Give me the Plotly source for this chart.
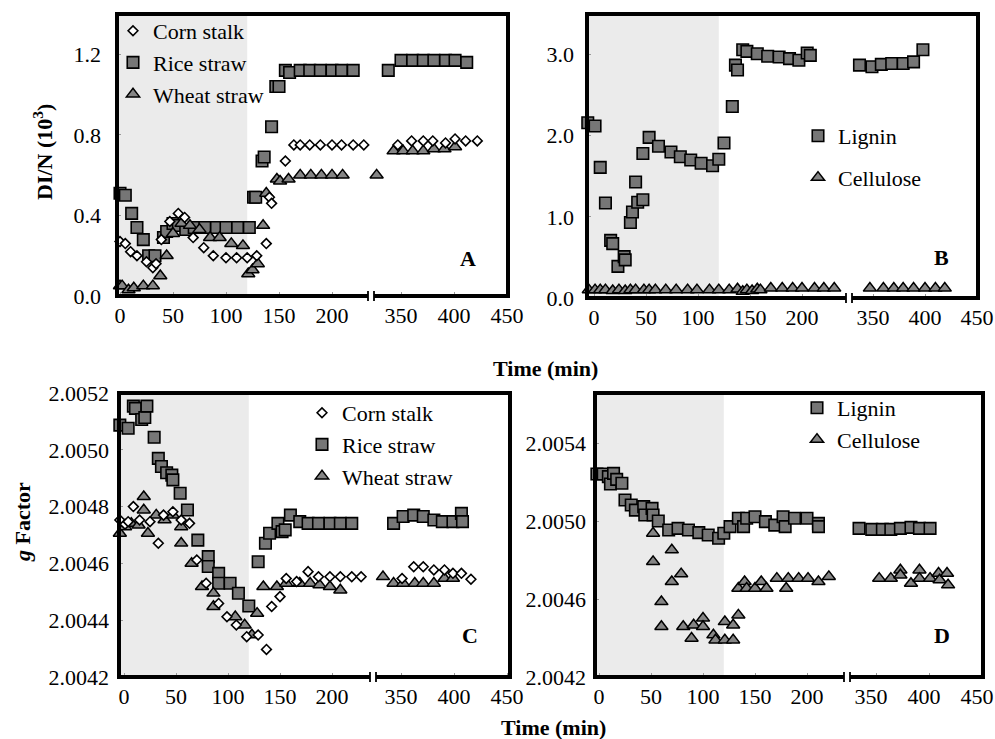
import plotly.graph_objects as go

W, H = 995, 739
SERIF = "Liberation Serif"

# ---------------- DATA ----------------
# Panel A : DI/N (10^3)
a_corn_t = [0, 5, 10, 16, 25, 31, 34, 39, 47, 55, 61, 69, 79, 88, 100, 110, 120, 129, 138, 141,
            143, 156, 164, 170, 179, 189, 200, 209, 220, 230, 347, 360, 371, 380, 392, 401, 411, 422]
a_corn_v = [0.27, 0.26, 0.22, 0.20, 0.17, 0.14, 0.16, 0.28, 0.37, 0.41, 0.39, 0.29, 0.24, 0.20, 0.19,
            0.19, 0.19, 0.20, 0.26, 0.49, 0.46, 0.67, 0.75, 0.75, 0.75, 0.75, 0.75, 0.75, 0.75, 0.75,
            0.75, 0.77, 0.77, 0.77, 0.76, 0.78, 0.77, 0.77]
a_rice_t = [0, 5, 11, 16, 22, 27, 33, 41, 44, 50, 55, 62, 70, 80, 91, 100, 111, 122, 126, 128,
            134, 136, 143, 147, 150, 156, 160, 170, 179, 189, 200, 209, 220, 338, 350, 361, 371, 381,
            392, 401, 412]
a_rice_v = [0.51, 0.50, 0.41, 0.34, 0.28, 0.20, 0.20, 0.29, 0.32, 0.36, 0.35, 0.33, 0.34, 0.34, 0.34,
            0.34, 0.34, 0.34, 0.49, 0.49, 0.67, 0.69, 0.84, 1.04, 1.04, 1.12, 1.11, 1.12, 1.12, 1.12,
            1.12, 1.12, 1.12, 1.12, 1.17, 1.17, 1.17, 1.17, 1.17, 1.17, 1.16]
a_wheat_t = [0, 2, 8, 13, 22, 31, 38, 44, 50, 58, 66, 75, 85, 94, 105, 116, 121, 125, 130, 135,
             138, 148, 151, 159, 170, 180, 190, 200, 210, 327, 343, 352, 361, 371, 381, 391, 401]
a_wheat_v = [0.05, 0.05, 0.03, 0.04, 0.05, 0.05, 0.10, 0.20, 0.31, 0.36, 0.35, 0.33, 0.29, 0.29, 0.26,
             0.25, 0.11, 0.13, 0.16, 0.35, 0.51, 0.58, 0.57, 0.58, 0.60, 0.60, 0.60, 0.60, 0.60, 0.60,
             0.72, 0.72, 0.72, 0.72, 0.73, 0.73, 0.74]

# Panel B : DI/N (10^3)
b_lignin_t = [-6, 1, 6, 11, 16, 18, 23, 29, 30, 35, 37, 40, 42, 47, 47, 53, 62, 74, 83, 93, 103, 114,
              120, 125, 133, 136, 138, 143, 147, 157, 167, 178, 188, 197, 205, 208,
              323, 337, 349, 358, 368, 379, 389, 398]
b_lignin_v = [2.16, 2.12, 1.61, 1.17, 0.71, 0.67, 0.39, 0.51, 0.47, 0.93, 1.06, 1.43, 1.18, 1.21, 1.78,
              1.98, 1.87, 1.80, 1.74, 1.70, 1.66, 1.63, 1.71, 1.91, 2.36, 2.87, 2.81, 3.06, 3.04, 3.01,
              2.98, 2.97, 2.95, 2.93, 3.02, 2.99,
              2.85, 2.87, 2.85, 2.88, 2.89, 2.89, 2.91, 3.06]
b_cell_t = [-5, 1, 6, 11, 18, 24, 30, 35, 40, 48, 53, 59, 69, 79, 90, 99, 111, 120, 130, 138, 143,
            147, 152, 157, 160, 170, 181, 191, 200, 212, 221, 231,
            347, 360, 370, 379, 389, 400, 410, 419]
b_cell_v = [0.10, 0.10, 0.10, 0.10, 0.09, 0.10, 0.09, 0.10, 0.10, 0.10, 0.10, 0.10, 0.10, 0.10, 0.10,
            0.10, 0.10, 0.10, 0.10, 0.11, 0.08, 0.10, 0.09, 0.11, 0.10, 0.12, 0.12, 0.12, 0.12, 0.12,
            0.12, 0.12,
            0.12, 0.12, 0.12, 0.12, 0.12, 0.12, 0.12, 0.12]

# Panel C : g factor
c_corn_t = [-4, 1, 4, 9, 15, 25, 33, 38, 47, 55, 63, 70, 79, 91, 99, 108, 118, 129, 137, 142,
            150, 156, 166, 177, 187, 198, 208, 219, 228, 351, 362, 371, 381, 391, 399, 407, 416]
c_corn_v = [2.004753, 2.004738, 2.004747, 2.004800, 2.004753, 2.004747, 2.004671, 2.004770, 2.004782,
            2.004753, 2.004741, 2.004612, 2.004530, 2.004459, 2.004412, 2.004383, 2.004342, 2.004348,
            2.004297, 2.004448, 2.004483, 2.004547, 2.004536, 2.004571, 2.004553, 2.004553, 2.004553,
            2.004553, 2.004553, 2.004547, 2.004588, 2.004588, 2.004577, 2.004577, 2.004565, 2.004565,
            2.004544]
c_rice_t = [-4, 4, 9, 11, 17, 20, 22, 29, 33, 36, 41, 46, 47, 54, 61, 71, 81, 81, 91, 91, 102, 110,
            120, 129, 136, 140, 148, 152, 155, 160, 169, 177, 187, 198, 208, 219,
            343, 352, 362, 371, 381, 389, 399, 407, 408]
c_rice_v = [2.005087, 2.005076, 2.005154, 2.005146, 2.005107, 2.005114, 2.005154, 2.005044, 2.004970,
            2.004941, 2.004919, 2.004911, 2.004894, 2.004847, 2.004788, 2.004682, 2.004624, 2.004589,
            2.004565, 2.004530, 2.004530, 2.004495, 2.004450, 2.004606, 2.004671, 2.004706, 2.004741,
            2.004712, 2.004718, 2.004770, 2.004747, 2.004741, 2.004741, 2.004741, 2.004741, 2.004741,
            2.004741, 2.004765, 2.004770, 2.004765, 2.004753, 2.004747, 2.004747, 2.004776, 2.004747]
c_wheat_t = [-4, 1, 7, 14, 19, 19, 23, 31, 39, 47, 55, 55, 65, 75, 86, 86, 107, 116, 123, 128, 134,
             147, 156, 169, 179, 188, 198, 208, 333, 343, 352, 363, 371, 381, 391, 399]
c_wheat_v = [2.004706, 2.004729, 2.004741, 2.004735, 2.004788, 2.004835, 2.004706, 2.004770, 2.004753,
             2.004770, 2.004729, 2.004671, 2.004600, 2.004518, 2.004495, 2.004448, 2.004412, 2.004383,
             2.004348, 2.004424, 2.004518, 2.004518, 2.004530, 2.004530, 2.004530, 2.004524, 2.004518,
             2.004506, 2.004553, 2.004530, 2.004530, 2.004530, 2.004530, 2.004530, 2.004547, 2.004547]

# Panel D : g factor
d_lignin_t = [-2, 4, 9, 11, 14, 17, 22, 25, 31, 35, 43, 44, 51, 52, 57, 67, 76, 86, 96, 105, 115,
              120, 126, 134, 139, 142, 150, 160, 169, 177, 179, 188, 200, 211, 211,
              334, 346, 356, 364, 373, 383, 391, 401]
d_lignin_v = [2.005244, 2.005244, 2.005230, 2.005192, 2.005247, 2.005216, 2.005196, 2.005110, 2.005084,
              2.005058, 2.005076, 2.005033, 2.005067, 2.005033, 2.005002, 2.004956, 2.004964, 2.004956,
              2.004942, 2.004930, 2.004913, 2.004939, 2.004973, 2.005016, 2.004973, 2.005016, 2.005024,
              2.004999, 2.004981, 2.005024, 2.004973, 2.005016, 2.005016, 2.004990, 2.004973,
              2.004964, 2.004959, 2.004959, 2.004959, 2.004964, 2.004969, 2.004964, 2.004964]
d_cell_t = [52, 52, 60, 60, 70, 70, 79, 81, 89, 91, 100, 100, 110, 112, 121, 121, 129, 129, 134, 134,
            140, 142, 150, 156, 161, 171, 180, 182, 192, 201, 211, 221,
            353, 364, 373, 373, 383, 391, 391, 401, 409, 410, 417, 418]
d_cell_v = [2.004939, 2.004793, 2.004587, 2.004459, 2.004853, 2.004690, 2.004730, 2.004459, 2.004399,
            2.004467, 2.004502, 2.004459, 2.004416, 2.004390, 2.004390, 2.004484, 2.004390, 2.004467,
            2.004518, 2.004656, 2.004690, 2.004656, 2.004656, 2.004690, 2.004656, 2.004707, 2.004656,
            2.004707, 2.004707, 2.004707, 2.004690, 2.004716,
            2.004707, 2.004707, 2.004750, 2.004724, 2.004681, 2.004750, 2.004707, 2.004707, 2.004733,
            2.004699, 2.004733, 2.004673]

# Tick labels
x_ticks_left = [0, 50, 100, 150, 200]
x_ticks_right = [350, 400, 450]
a_yticks = [0.0, 0.4, 0.8, 1.2]
b_yticks = [0.0, 1.0, 2.0, 3.0]
c_yticks = [2.0042, 2.0044, 2.0046, 2.0048, 2.0050, 2.0052]
d_yticks = [2.0042, 2.0046, 2.0050, 2.0054]
shade_end = 120

# ---------------- LAYOUT GEOMETRY (pixels) ----------------
PANELS = [
    dict(left=117, right=508, top=14, bottom=296, brk=371, t0=120, s=1.06, p350=401, sr=1.06,
         yr=[0, 1.4], yt=a_yticks, fmt=".1f", letter="A", lx=468, ly=258, so=15, shift=0),
    dict(left=587, right=978, top=14, bottom=298, brk=849, t0=594, s=1.04, p350=873, sr=1.04,
         yr=[0, 3.5], yt=b_yticks, fmt=".1f", letter="B", lx=941, ly=257, so=12, shift=0),
    dict(left=119, right=510, top=393, bottom=677, brk=373, t0=124, s=1.04, p350=401, sr=1.06,
         yr=[2.0042, 2.0052], yt=c_yticks, fmt=".4f", letter="C", lx=470, ly=635, so=9, shift=0),
    dict(left=595, right=983, top=393, bottom=677, brk=847, t0=599, s=1.04, p350=876, sr=1.06,
         yr=[2.0042, 2.00566], yt=d_yticks, fmt=".4f", letter="D", lx=942, ly=635, so=8, shift=-5),
]


def px(x):
    return x / W


def py(y):
    return 1 - y / H


def sid(n):
    return "" if n == 1 else str(n)


SQUARE = dict(symbol="square", size=11.5, color="#767676", line=dict(color="black", width=1.6))
TRI = dict(symbol="triangle-up", size=11.5, color="#858585", line=dict(color="black", width=1.5))
DIAM = dict(symbol="diamond", size=7.5, color="white", line=dict(color="black", width=1.6))

fig = go.Figure()
layout = dict(width=W, height=H, margin=dict(l=0, r=0, t=0, b=0, autoexpand=False), autosize=False,
              paper_bgcolor="white", plot_bgcolor="rgba(0,0,0,0)",
              font=dict(family=SERIF, size=22, color="black"), showlegend=True)
shapes = []
annotations = []

for i, g in enumerate(PANELS):
    xl, xr, yi = sid(2 * i + 1), sid(2 * i + 2), sid(i + 1)
    lo = (g["left"] - g["t0"]) / g["s"]
    hi = (g["brk"] - g["t0"]) / g["s"]
    rlo = 350 + (g["brk"] - g["p350"]) / g["sr"]
    rhi = 350 + (g["right"] - g["p350"]) / g["sr"]
    common_x = dict(showgrid=False, zeroline=False, showline=False, ticks="inside", ticklen=4,
                    tickwidth=1, tickcolor="#999999", tickfont=dict(family=SERIF, size=22),
                    ticklabelstandoff=4, fixedrange=True, automargin=False,
                    ticklabeloverflow="allow")
    layout[f"xaxis{xl}"] = dict(common_x, domain=[px(g["left"]), px(g["brk"])], range=[lo, hi],
                                tickvals=x_ticks_left, anchor=f"y{yi}")
    layout[f"xaxis{xr}"] = dict(common_x, domain=[px(g["brk"]), px(g["right"])], range=[rlo, rhi],
                                tickvals=x_ticks_right, anchor=f"y{yi}", ticklabelshift=g["shift"])
    eps = (g["yr"][1] - g["yr"][0]) * 1e-4
    layout[f"yaxis{yi}"] = dict(domain=[py(g["bottom"]), py(g["top"])],
                                range=[g["yr"][0] - eps, g["yr"][1] + eps], anchor=f"x{xl}",
                                showgrid=False, zeroline=False, showline=False, ticks="inside",
                                ticklen=4, tickwidth=1, tickcolor="#999999", tickvals=g["yt"],
                                tickformat=g["fmt"], tickfont=dict(family=SERIF, size=22),
                                ticklabelstandoff=g["so"], fixedrange=True, automargin=False)
    # shaded period
    shapes.append(dict(type="rect", xref=f"x{xl}", yref=f"y{yi} domain", x0=lo, x1=shade_end,
                       y0=0, y1=1, fillcolor="#ebebeb", line=dict(width=0), layer="below"))
    # frame with broken bottom axis
    L, R, T, B, K = px(g["left"]), px(g["right"]), py(g["top"]), py(g["bottom"]), g["brk"]
    fl = dict(color="black", width=4)
    for x0, y0, x1, y1 in [(px(g["left"] - 2), T, px(g["right"] + 2), T), (L, T, L, B), (R, T, R, B),
                           (px(g["left"] - 2), B, px(K - 3), B), (px(K + 3), B, px(g["right"] + 2), B)]:
        shapes.append(dict(type="line", xref="paper", yref="paper", x0=x0, y0=y0, x1=x1, y1=y1,
                           line=fl, layer="above"))
    for kx in (K - 3, K + 3):
        shapes.append(dict(type="line", xref="paper", yref="paper", x0=px(kx), x1=px(kx),
                           y0=py(g["bottom"] - 5), y1=py(g["bottom"] + 5),
                           line=dict(color="black", width=1.8), layer="above"))
    annotations.append(dict(text=f"<b>{g['letter']}</b>", x=px(g["lx"]), y=py(g["ly"])))


def add_series(i, t, v, name, marker, legend, rank):
    xl, xr, yi = sid(2 * i + 1), sid(2 * i + 2), sid(i + 1)
    lt = [a for a in t if a < 300]
    lv = [b for a, b in zip(t, v) if a < 300]
    rt = [a for a in t if a >= 300]
    rv = [b for a, b in zip(t, v) if a >= 300]
    fig.add_trace(go.Scatter(x=lt, y=lv, mode="markers", name=name, marker=marker,
                             xaxis=f"x{xl}", yaxis=f"y{yi}", legend=legend, legendgroup=f"{legend}{name}",
                             legendrank=rank, showlegend=True, cliponaxis=False))
    fig.add_trace(go.Scatter(x=rt, y=rv, mode="markers", name=name, marker=marker,
                             xaxis=f"x{xr}", yaxis=f"y{yi}", legend=legend, legendgroup=f"{legend}{name}",
                             legendrank=rank, showlegend=False, cliponaxis=False))


add_series(0, a_rice_t, a_rice_v, "Rice straw", SQUARE, "legend", 2)
add_series(0, a_wheat_t, a_wheat_v, "Wheat straw", TRI, "legend", 3)
add_series(0, a_corn_t, a_corn_v, "Corn stalk", DIAM, "legend", 1)
add_series(1, b_lignin_t, b_lignin_v, "Lignin", SQUARE, "legend2", 1)
add_series(1, b_cell_t, b_cell_v, "Cellulose", TRI, "legend2", 2)
add_series(2, c_rice_t, c_rice_v, "Rice straw", SQUARE, "legend3", 2)
add_series(2, c_wheat_t, c_wheat_v, "Wheat straw", TRI, "legend3", 3)
add_series(2, c_corn_t, c_corn_v, "Corn stalk", DIAM, "legend3", 1)
add_series(3, d_lignin_t, d_lignin_v, "Lignin", SQUARE, "legend4", 1)
add_series(3, d_cell_t, d_cell_v, "Cellulose", TRI, "legend4", 2)

leg_common = dict(bgcolor="rgba(0,0,0,0)", borderwidth=0, font=dict(family=SERIF, size=22),
                  xanchor="left", yanchor="top", itemwidth=30)
layout["legend"] = dict(leg_common, x=px(113), y=py(10), tracegroupgap=0)
layout["legend2"] = dict(leg_common, x=px(798), y=py(115), tracegroupgap=10)
layout["legend3"] = dict(leg_common, x=px(302), y=py(392), tracegroupgap=0)
layout["legend4"] = dict(leg_common, x=px(797), y=py(387), tracegroupgap=0)

annotations += [
    dict(text="<b>DI/N (10<sup>3</sup>)</b>", x=px(43), y=py(152), textangle=-90),
    dict(text="<b><i>g</i> Factor</b>", x=px(22), y=py(522), textangle=-90),
    dict(text="<b>Time (min)</b>", x=px(545), y=py(369)),
    dict(text="<b>Time (min)</b>", x=px(553), y=py(727)),
]
for a in annotations:
    a.update(xref="paper", yref="paper", showarrow=False, xanchor="center", yanchor="middle",
             font=dict(family=SERIF, size=22))

layout["shapes"] = shapes
layout["annotations"] = annotations
fig.update_layout(**layout)

fig.write_html("out.html", post_script="document.body.style.margin='0';",
               config={"displayModeBar": False})
